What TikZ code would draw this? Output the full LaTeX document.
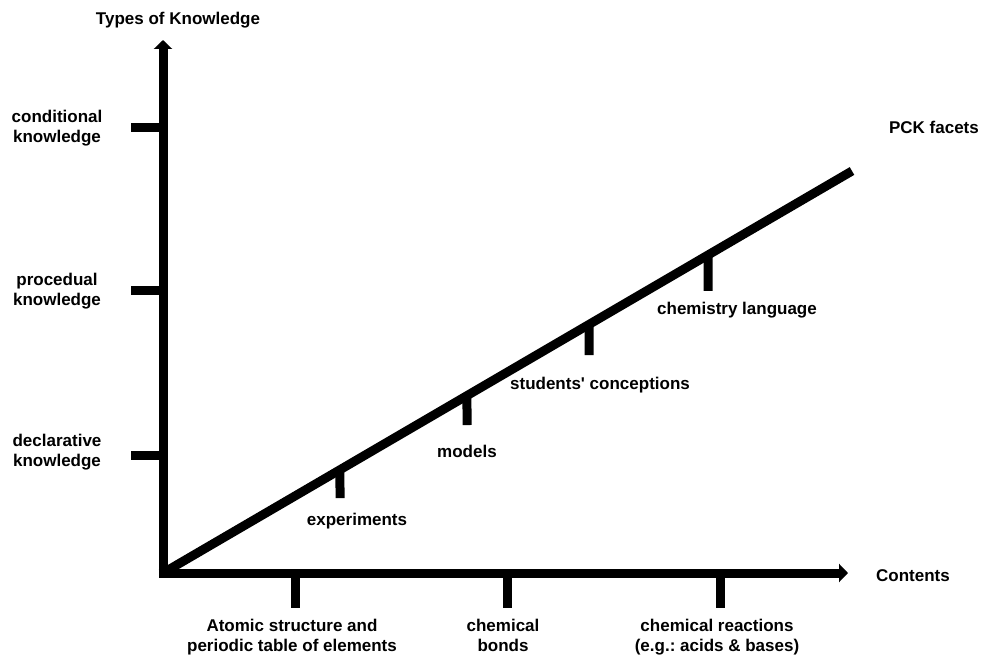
\documentclass[tikz,border=0pt]{standalone}
\usepackage{fontspec}
\setmainfont{Liberation Sans}
\usetikzlibrary{arrows.meta,calc}
\frenchspacing
\begin{document}
\begin{tikzpicture}[x=1pt,y=-1pt,
  axis/.style={line width=9pt},
  tickline/.style={line width=9pt},
  arrowaxis/.style={line width=9pt,-{Triangle[width=18pt,length=9pt]}},
  lbl/.style={font=\fontsize{17}{20}\selectfont\bfseries, align=center, inner sep=0pt}]
\clip (0,0) rectangle (986,655);
\fill[white] (0,0) rectangle (986,655);
% axes
\coordinate (O) at (163,573);
\coordinate (Ybot) at (163,577.5);
\coordinate (Ytop) at (163,40);
\coordinate (Xbeg) at (158.5,573);
\coordinate (Xend) at (848,573);
\coordinate (E) at (852,171);
\draw[arrowaxis] (Ybot) -- (Ytop);
\draw[arrowaxis] (Xbeg) -- (Xend);
\draw[axis] (O) -- (E);
% y ticks
\foreach \n/\y in {c/128,p/291,d/455}{
  \coordinate (yt\n a) at (131,\y);
  \coordinate (yt\n b) at (163,\y);
  \draw[tickline] (yt\n a) -- (yt\n b);
}
% x ticks
\foreach \n/\x in {a/295,b/507,c/720}{
  \coordinate (xt\n a) at (\x,573);
  \coordinate (xt\n b) at (\x,608);
  \draw[tickline] (xt\n a) -- (xt\n b);
}
% diagonal ticks
\foreach \n/\x/\yb in {e/340/498,m/467/425,s/589/355,l/708/291}{
  \coordinate (dt\n a) at ($(O)!{(\x-163)/689}!(E)$);
  \coordinate (dt\n b) at (\x,\yb);
  \draw[tickline] (dt\n a) -- (dt\n b);
}
% labels
\node[lbl] (types) at (178,20) {Types of Knowledge};
\node[lbl] (cond) at (57,128) {conditional\\knowledge};
\node[lbl] (proc) at (57,291) {procedual\\knowledge};
\node[lbl] (decl) at (57,452) {declarative\\knowledge};
\node[lbl] (pck) at (934,127) {PCK facets};
\node[lbl] (cont) at (913,576) {Contents};
\node[lbl] (exp) at (357,521) {experiments};
\node[lbl] (mod) at (467,451) {models};
\node[lbl] (stu) at (600,385) {students\textquotesingle\ conceptions};
\node[lbl] (lang) at (737,310) {chemistry language};
\node[lbl,anchor=north] (atom) at (292,618.5) {Atomic structure and\\periodic table of elements};
\node[lbl,anchor=north] (bond) at (503,618.5) {chemical\\bonds};
\node[lbl,anchor=north] (reac) at (717,618.5) {chemical reactions\\(e.g.: acids \& bases)};
\end{tikzpicture}
\end{document}
